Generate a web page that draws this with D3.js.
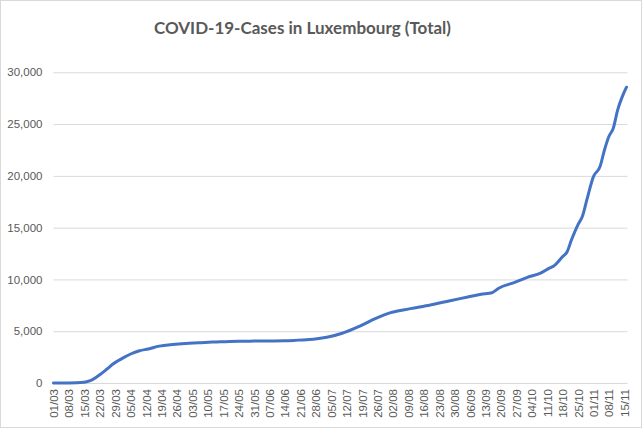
<!DOCTYPE html>
<html>
<head>
<meta charset="utf-8">
<script src="https://cdn.jsdelivr.net/npm/d3@7"></script>
<style>
  body { margin: 0; background: #fff; }
  svg { display: block; font-family: Lato, "Open Sans", sans-serif; }
</style>
</head>
<body>
<div id="chart-area"></div>
<script>
// Data (cumulative cases)
const dates = [
  "2020-03-01", "2020-03-08", "2020-03-15", "2020-03-18", "2020-03-22", "2020-03-25",
  "2020-03-28", "2020-04-02", "2020-04-05", "2020-04-09", "2020-04-13", "2020-04-18",
  "2020-04-24", "2020-04-30", "2020-05-06", "2020-05-12", "2020-05-18", "2020-05-24",
  "2020-05-31", "2020-06-07", "2020-06-14", "2020-06-20", "2020-06-27", "2020-07-03",
  "2020-07-10", "2020-07-18", "2020-07-25", "2020-08-01", "2020-08-10", "2020-08-19",
  "2020-08-28", "2020-09-05", "2020-09-11", "2020-09-16", "2020-09-19", "2020-09-26",
  "2020-10-02", "2020-10-08", "2020-10-12", "2020-10-14", "2020-10-18", "2020-10-20",
  "2020-10-22", "2020-10-25", "2020-10-27", "2020-10-29", "2020-11-01", "2020-11-04",
  "2020-11-06", "2020-11-08", "2020-11-10", "2020-11-12", "2020-11-14", "2020-11-16"
];
const cases = [
  0, 3, 77, 250, 798, 1300,
  1830, 2480, 2800, 3110, 3290, 3560,
  3720, 3820, 3880, 3950, 3990, 4030,
  4045, 4055, 4070, 4140, 4220, 4410,
  4800, 5500, 6210, 6790, 7180, 7530,
  7950, 8300, 8570, 8720, 9150, 9690,
  10200, 10600, 11100, 11300, 12200, 12650,
  13800, 15300, 16100, 17680, 19930, 20900,
  22500, 23800, 24600, 26370, 27600, 28560
];

// Axis labels
const xTickLabels = [
  "01/03", "08/03", "15/03", "22/03", "29/03", "05/04", "12/04", "19/04", "26/04",
  "03/05", "10/05", "17/05", "24/05", "31/05", "07/06", "14/06", "21/06", "28/06",
  "05/07", "12/07", "19/07", "26/07", "02/08", "09/08", "16/08", "23/08", "30/08",
  "06/09", "13/09", "20/09", "27/09", "04/10", "11/10", "18/10", "25/10", "01/11",
  "08/11", "15/11"
];
const yTickValues = [0, 5000, 10000, 15000, 20000, 25000, 30000];

// Dimensions
const W = 643, H = 429;
const margin = { left: 53.5, right: 15.5, top: 72.3, bottom: 46 };
const width = W - margin.left - margin.right;
const height = H - margin.top - margin.bottom;

const parseDay = d3.timeParse("%Y-%m-%d");
const parseTick = d3.timeParse("%d/%m/%Y");
const series = dates.map((d, i) => ({ date: parseDay(d), value: cases[i] }));

const svg = d3.select("#chart-area")
  .append("svg")
    .attr("width", W)
    .attr("height", H);

// chart area border
svg.append("rect")
  .attr("x", 0.5).attr("y", 0.5)
  .attr("width", 641).attr("height", 427)
  .attr("fill", "#fff")
  .attr("stroke", "#d9d9d9");

// Title
svg.append("text")
  .attr("x", 302.5)
  .attr("y", 34)
  .attr("text-anchor", "middle")
  .attr("font-size", "17px")
  .attr("font-weight", "bold")
  .attr("fill", "#595959")
  .text("COVID-19-Cases in Luxembourg (Total)");

const chart = svg.append("g")
  .attr("transform", "translate(" + margin.left + ", " + margin.top + ")");

// Scales
const xScale = d3.scaleTime()
  .domain([parseDay("2020-03-01"), parseDay("2020-11-16")])
  .range([0, width - 1]);
const yScale = d3.scaleLinear()
  .domain([0, 30000])
  .range([height, 0]);

// Y axis with gridlines
const yAxisGroup = chart.append("g").attr("class", "y axis");
yAxisGroup.call(d3.axisLeft(yScale)
  .tickValues(yTickValues)
  .tickFormat(d3.format(","))
  .tickSize(-width)
  .tickPadding(11));
yAxisGroup.select(".domain").remove();
yAxisGroup.selectAll(".tick line").attr("stroke", "#d9d9d9");
yAxisGroup.selectAll(".tick text")
  .attr("fill", "#595959")
  .attr("font-size", "11.5px");

// X axis
const xAxisGroup = chart.append("g")
  .attr("class", "x axis")
  .attr("transform", "translate(0," + height + ")");
xAxisGroup.call(d3.axisBottom(xScale)
  .tickValues(xTickLabels.map(t => parseTick(t + "/2020")))
  .tickFormat(d3.timeFormat("%d/%m"))
  .tickSize(0)
  .tickSizeOuter(0));
xAxisGroup.select(".domain").attr("stroke", "#d9d9d9");
xAxisGroup.selectAll(".tick text")
  .attr("fill", "#595959")
  .attr("font-size", "11.5px")
  .attr("text-anchor", "end")
  .attr("transform", "rotate(-90)")
  .attr("x", -6)
  .attr("y", 0)
  .attr("dy", "0.35em");

// Line
const line = d3.line()
  .x(d => xScale(d.date))
  .y(d => yScale(d.value))
  .curve(d3.curveMonotoneX);

chart.append("path")
  .datum(series)
  .attr("fill", "none")
  .attr("stroke", "#4472c4")
  .attr("stroke-width", 3)
  .attr("stroke-linejoin", "round")
  .attr("stroke-linecap", "round")
  .attr("d", line);
</script>
</body>
</html>
